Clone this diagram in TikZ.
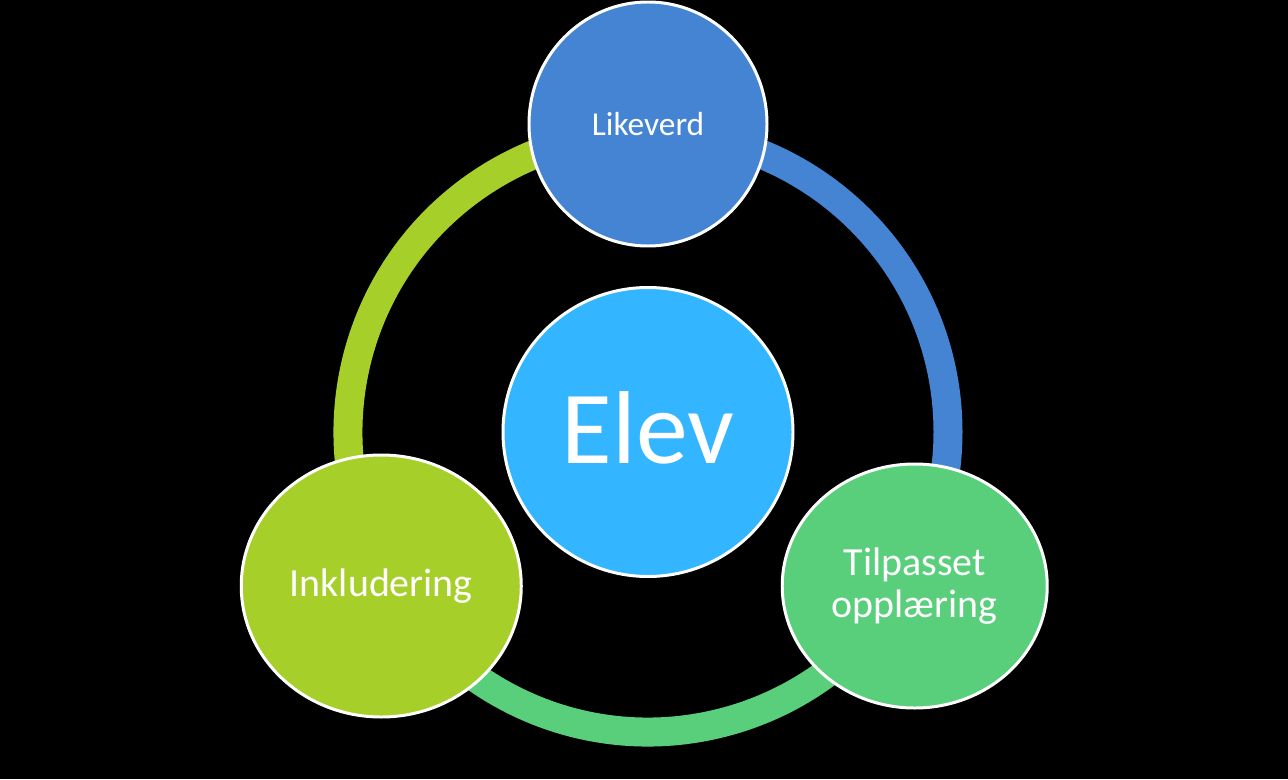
\documentclass[tikz,border=0pt]{standalone}
\usepackage{fontspec}
\setmainfont{Carlito}
\usepackage{xcolor}
\usepackage{tikz}
\usetikzlibrary{shapes.geometric,positioning}
\definecolor{elink}{HTML}{000000}
\definecolor{elblue}{HTML}{4584D3}
\definecolor{elsky}{HTML}{33B5FF}
\definecolor{ellime}{HTML}{A6CF29}
\definecolor{elgreen}{HTML}{5ACF7B}
\tikzset{
  bubble/.style={ellipse,draw=white,line width=1.7pt,inner sep=0pt,
                 align=center,text=white},
  ringpart/.style={line width=0.58cm},
}

\begin{document}
\begin{tikzpicture}
  \useasboundingbox (-12.96,-6.94) rectangle (12.8,8.64);
  \fill[elink] (-12.96,-6.94) rectangle (12.8,8.64);
  \coordinate (ctr) at (0,0);
  % ring behind the bubbles
  \foreach \from/\to/\col in {90/-30/elblue, -30/-150/elgreen, 210/90/ellime}{
     \draw[ringpart,draw=\col] (ctr) ++(\from:6) arc[start angle=\from,end angle=\to,radius=6];
  }
  \node[bubble,fill=elsky,minimum width=5.8cm,minimum height=5.78cm,
        font=\fontsize{59}{70}\selectfont] (elev) at (ctr) {};
  \node[text=white,font=\fontsize{59}{70}\selectfont] (elevtxt) at ([yshift=0.08cm]elev.center) {Elev};
  \node[bubble,fill=elblue,minimum width=4.76cm,minimum height=4.88cm,
        font=\fontsize{19}{23}\selectfont] (likeverd) at (90:6.16) {Likeverd};
  \node[bubble,fill=ellime,minimum width=5.6cm,minimum height=5.24cm,
        font=\fontsize{22.7}{24}\selectfont] (inkl) at (210:6.16) {Inkludering};
  \node[bubble,fill=elgreen,minimum width=5.3cm,minimum height=4.88cm,
        font=\fontsize{22.7}{24}\selectfont] (tilp) at (330:6.16) {Tilpasset\\opplæring};
\end{tikzpicture}
\end{document}
